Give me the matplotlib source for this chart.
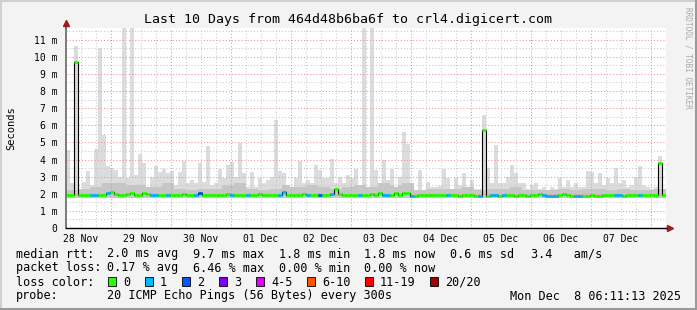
import numpy as np
import matplotlib.pyplot as plt
from matplotlib.lines import Line2D
from matplotlib.patches import Rectangle

# smokeping data, one bin = 1.6 h (96 min), 150 bins = 10 days, values in ms
smoke_max = [
    4.55, 2.6, 10.6, 2.3, 2.7, 3.35, 2.5, 4.6, 10.5, 5.45,
    3.6, 3.5, 3.4, 3.0, 11.7, 2.9, 11.7, 3.1, 4.3, 3.8,
    2.4, 3.0, 3.6, 3.25, 3.45, 3.2, 3.3, 2.5, 3.25, 3.9,
    2.6, 2.8, 2.6, 3.8, 2.7, 4.8, 2.5, 2.6, 3.45, 2.9,
    3.7, 3.85, 3.0, 4.95, 3.2, 2.4, 3.25, 2.4, 2.9, 2.6,
    2.8, 3.0, 6.3, 3.3, 3.2, 2.5, 2.4, 2.9, 3.9, 2.6,
    2.8, 2.6, 3.7, 3.4, 2.9, 2.9, 4.05, 2.6, 3.0, 2.6,
    3.1, 2.9, 3.45, 2.5, 11.7, 2.4, 11.7, 3.4, 2.6, 4.0,
    2.8, 3.45, 2.4, 3.0, 5.6, 4.9, 2.6, 2.2, 3.4, 2.2,
    2.7, 2.4, 2.4, 2.45, 3.45, 2.9, 2.3, 2.9, 2.5, 3.2,
    2.4, 2.8, 2.3, 2.3, 6.6, 3.5, 2.6, 4.85, 2.6, 2.6,
    3.0, 3.7, 3.2, 2.6, 2.6, 2.3, 2.5, 2.6, 2.3, 2.4,
    2.2, 2.4, 2.3, 2.9, 2.4, 2.8, 2.4, 2.6, 2.4, 2.4,
    3.3, 3.25, 2.6, 3.2, 2.5, 2.9, 2.6, 3.5, 2.6, 2.8,
    2.4, 2.5, 3.0, 3.6, 2.5, 2.4, 2.3, 2.4, 4.2, 2.3,
]

# darker inner smoke, one value per 3 bins (4.8 h)
smoke_mid = [
    2.2, 2.3, 2.4, 2.6, 2.6, 2.5, 2.5, 2.4, 2.6, 2.3,
    2.2, 2.3, 2.3, 2.5, 2.6, 2.3, 2.2, 2.3, 2.5, 2.4,
    2.5, 2.4, 2.3, 2.4, 2.5, 2.4, 2.6, 2.5, 2.6, 2.2,
    2.3, 2.3, 2.3, 2.4, 2.2, 2.3, 2.3, 2.4, 2.2, 2.2,
    2.2, 2.3, 2.2, 2.3, 2.3, 2.2, 2.3, 2.2, 2.2, 2.3,
]
smoke_min = 1.78

median = [
    1.95, 1.9, 9.7, 1.9, 1.9, 1.9, 1.9, 1.95, 1.9, 1.9,
    2.05, 2.1, 2.0, 1.95, 1.9, 2.0, 2.05, 1.95, 1.95, 2.05,
    2.0, 1.95, 1.9, 1.95, 1.9, 1.95, 1.95, 1.9, 1.95, 2.0,
    1.95, 1.9, 1.95, 2.05, 1.95, 1.9, 1.95, 1.9, 1.95, 1.9,
    2.0, 1.95, 1.9, 1.9, 1.95, 1.9, 1.9, 1.95, 2.0, 1.95,
    1.95, 1.9, 1.9, 1.95, 2.1, 1.95, 1.95, 1.9, 1.95, 2.0,
    1.9, 1.95, 1.9, 1.95, 1.9, 1.95, 2.0, 2.3, 2.0, 1.95,
    1.9, 1.95, 1.9, 1.95, 1.9, 1.95, 2.0, 1.95, 2.05, 1.95,
    1.95, 1.95, 2.05, 1.95, 2.05, 2.05, 1.85, 1.85, 1.9, 1.9,
    1.95, 1.9, 1.9, 1.95, 1.9, 1.9, 1.9, 1.9, 1.85, 1.9,
    1.9, 1.9, 1.85, 1.85, 5.7, 1.85, 1.9, 1.9, 1.85, 1.9,
    1.9, 1.9, 1.85, 1.9, 1.9, 1.85, 1.9, 1.95, 2.0, 1.9,
    1.85, 1.85, 1.85, 1.95, 2.0, 1.9, 1.85, 1.85, 1.85, 1.85,
    1.85, 1.9, 1.85, 1.85, 1.9, 1.9, 1.95, 1.9, 1.9, 1.85,
    1.9, 1.9, 1.95, 1.9, 1.9, 1.9, 1.9, 1.95, 3.8, 1.9,
]

# lost pings (of 20) per bin
loss = [
    0, 0, 0, 0, 0, 0, 1, 1, 0, 0, 1, 0, 0, 0, 0, 0, 0, 0, 0, 0, 0, 1, 1, 0, 0, 1, 0, 0, 0, 0,
    0, 0, 1, 2, 0, 0, 0, 0, 0, 0, 0, 1, 0, 0, 0, 1, 0, 0, 0, 0, 0, 0, 0, 1, 1, 0, 0, 0, 0, 0,
    1, 0, 0, 2, 0, 0, 1, 0, 0, 0, 0, 0, 0, 1, 0, 0, 0, 0, 0, 1, 1, 0, 0, 0, 0, 0, 1, 0, 0, 0,
    0, 0, 0, 0, 0, 1, 0, 0, 0, 0, 0, 0, 0, 1, 0, 0, 1, 1, 0, 1, 0, 0, 0, 0, 0, 0, 0, 0, 0, 1,
    1, 1, 1, 0, 0, 0, 0, 1, 1, 0, 0, 0, 0, 0, 0, 0, 0, 1, 1, 0, 0, 0, 0, 1, 0, 0, 0, 0, 0, 0,
]

day_labels = ["28 Nov", "29 Nov", "30 Nov", "01 Dec", "02 Dec",
              "03 Dec", "04 Dec", "05 Dec", "06 Dec", "07 Dec"]
loss_names = ["0", "1", "2", "3", "4-5", "6-10", "11-19", "20/20"]
loss_cols = ["#26ff00", "#00b8ff", "#0059ff", "#7e00ff",
             "#dd00ff", "#ff5500", "#ff0000", "#a10000"]

title = "Last 10 Days from 464d48b6ba6f to crl4.digicert.com"
rtt_parts = ["2.0 ms avg", "9.7 ms max", "1.8 ms min", "1.8 ms now", "0.6 ms sd", "3.4   am/s"]
loss_parts = ["0.17 % avg", "6.46 % max", "0.00 % min", "0.00 % now"]
probe_text = "20 ICMP Echo Pings (56 Bytes) every 300s"
stamp = "Mon Dec  8 06:11:13 2025"

MONO = "DejaVu Sans Mono"
W, H = 697, 310
bin_h = 1.6
first_midnight = 24 - (6 + 11 / 60 + 13 / 3600)   # start is Nov 28 06:11:13

edges = np.arange(len(smoke_max) + 1) * bin_h
smax = np.array(smoke_max)
smid = np.minimum(np.repeat(smoke_mid, 3), smax)
med = np.array(median)

fig = plt.figure(figsize=(W / 100, H / 100), dpi=100, facecolor="#f3f3f3")
ax = fig.add_axes([66 / W, 82 / H, 600 / W, 200 / H])
ax.set_facecolor("white")
ax.set_xlim(0, 240)
ax.set_ylim(0, 11.68)

# smoke
ax.fill_between(edges, smoke_min, np.append(smax, smax[-1]), step="post",
                color="#dcdcdc", lw=0, zorder=1)
ax.fill_between(edges, smoke_min, np.append(smid, smid[-1]), step="post",
                color="#c6c6c6", lw=0, zorder=1.1)

# grid
dots = (0, (1, 2))
for v in np.arange(0.5, 11.6, 0.5):
    c = "#f09090" if v % 1 == 0 else "#c8c8c8"
    ax.axhline(v, color=c, lw=0.75, ls=dots, zorder=2)
for h in np.arange(first_midnight - 12, 240, 6):
    c = "#f09090" if abs((h - first_midnight) % 24) < 0.01 else "#c8c8c8"
    ax.axvline(h, color=c, lw=0.75, ls=dots, zorder=2)

# median line + loss colors
ax.step(edges, np.append(med, med[-1]), where="post", color="black", lw=0.8, zorder=3)
ax.hlines(med, edges[:-1], edges[1:], colors=[loss_cols[l] for l in loss],
          lw=2.2, zorder=4)

# axes look
for s in ["top", "right"]:
    ax.spines[s].set_visible(False)
ax.spines["left"].set_color("#666666")
ax.spines["left"].set_linewidth(1.2)
ax.spines["bottom"].set_color("black")
ax.spines["bottom"].set_linewidth(1.0)
ax.add_line(Line2D([0, 0], [1, 1.025], transform=ax.transAxes, color="#666666",
                   lw=1.2, clip_on=False))
ax.add_line(Line2D([1, 1.006], [0, 0], transform=ax.transAxes, color="black",
                   lw=1.0, clip_on=False))
ax.plot(0, 1.025, marker="^", ms=4.5, color="#9b1c1c", transform=ax.transAxes,
        clip_on=False)
ax.plot(1.006, 0, marker=">", ms=4.5, color="#9b1c1c", transform=ax.transAxes,
        clip_on=False)

ax.set_yticks(range(12))
ax.set_yticklabels(["0"] + ["%d m" % i for i in range(1, 12)], family=MONO, fontsize=7)
ax.set_xticks(first_midnight - 12 + 24 * np.arange(10))
ax.set_xticklabels(day_labels, family=MONO, fontsize=7)
ax.tick_params(axis="y", length=0, pad=6)
ax.tick_params(axis="x", length=0, pad=4)

# texts
def fy(ypx):
    return 1 - ypx / H

FS = 8.5
fig.text(348 / W, fy(19), title, ha="center", va="center", family=MONO, fontsize=9.5)
fig.text(11 / W, fy(128), "Seconds", rotation=90, ha="center", va="center",
         family=MONO, fontsize=7.5)
fig.text(688 / W, fy(58), "RRDTOOL / TOBI OETIKER", rotation=270, ha="center",
         va="center", family=MONO, fontsize=5.6, color="#a8a8a8")

cols = [107, 193, 279, 364, 450, 531]
fig.text(16 / W, fy(254), "median rtt:", va="center", family=MONO, fontsize=FS)
for cx, part in zip(cols, rtt_parts):
    fig.text(cx / W, fy(254), part, va="center", family=MONO, fontsize=FS)
fig.text(16 / W, fy(268), "packet loss:", va="center", family=MONO, fontsize=FS)
for cx, part in zip(cols, loss_parts):
    fig.text(cx / W, fy(268), part, va="center", family=MONO, fontsize=FS)

fig.text(16 / W, fy(282), "loss color:", va="center", family=MONO, fontsize=FS)
box_x = [108, 145, 182, 219, 256, 307, 365, 430]
for bx, name, col in zip(box_x, loss_names, loss_cols):
    fig.add_artist(Rectangle((bx / W, fy(286)), 8 / W, 9 / H, facecolor=col,
                             edgecolor="black", lw=0.6, transform=fig.transFigure))
    fig.text((bx + 15) / W, fy(282), name, va="center", family=MONO, fontsize=FS)
fig.text(16 / W, fy(296), "probe:", va="center", family=MONO, fontsize=FS)
fig.text(107 / W, fy(296), probe_text, va="center", family=MONO, fontsize=FS)
fig.text(681 / W, fy(296), stamp, ha="right", va="center", family=MONO, fontsize=FS)

# frame
fig.add_artist(Line2D([0, 1], [1 - 1 / H] * 2, color="#d0d0d0", lw=1.5))
fig.add_artist(Line2D([1 / W] * 2, [0, 1], color="#d0d0d0", lw=1.5))
fig.add_artist(Line2D([0, 1], [1 / H] * 2, color="#9a9a9a", lw=1.5))
fig.add_artist(Line2D([1 - 1 / W] * 2, [0, 1], color="#9a9a9a", lw=1.5))

fig.savefig("out.png", dpi=100, facecolor=fig.get_facecolor())
